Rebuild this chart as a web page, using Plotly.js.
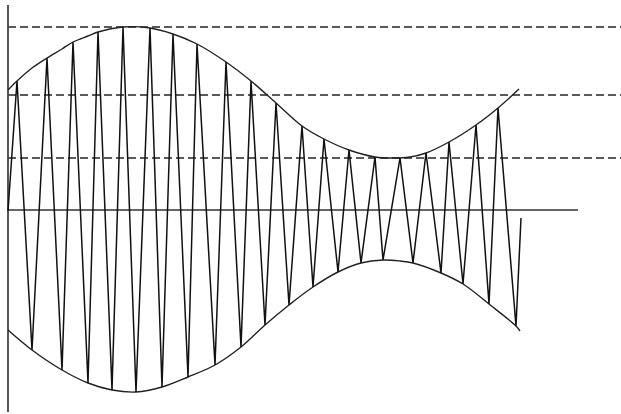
<!DOCTYPE html>
<html>
<head>
<meta charset="utf-8">
<script src="https://cdn.plot.ly/plotly-3.0.1.min.js"></script>
<style>html,body{margin:0;padding:0;background:#fff;}#chart{width:621px;height:414px;}</style>
</head>
<body>
<div id="chart"></div>
<script>
// Zigzag (modulated triangle wave) vertices: time and amplitude
const zigX = [8,17,32,47,62,73,88,98,112,123,136,150,162,173,188,197,215,226,241,251,265,276,289,302,313,324,338,349,361,375,383,400,413,426,441,449,463,476,489,498,516,521];
const zigY = [-1,129,-140,152,-160,168,-173,178,-180,183,-182,182,-177,176,-167,166,-155,148,-137,129,-115,107,-95,84,-77,71,-62,60,-53,53,-50,52,-53,57,-63,68,-74,85,-94,102,-116,-8];

// Upper envelope
const upX = [8,17,32,47,62,73,88,98,123,150,173,197,226,251,276,302,324,349,375,392,410,426,449,476,498,519];
const upY = [120,129,142,152,161,168,174,178,183,182,176,166,148,129,107,84,71,60,53,52,53,57,68,85,102,121];

// Lower envelope
const loX = [8,32,62,88,112,136,162,188,215,241,265,289,313,338,361,383,400,413,441,463,489,516,520];
const loY = [-120,-140,-160,-173,-180,-182,-177,-167,-155,-137,-115,-95,-77,-62,-53,-50,-51,-53,-63,-74,-94,-116,-121];

// Dashed reference levels
const refLevels = [183, 115, 52];

// Axis extents
const axisXStart = 8, axisXEnd = 578;
const axisYTop = 205, axisYBottom = -202;

const traces = [];
refLevels.forEach(function(v){
  traces.push({x:[axisXStart, 621], y:[v, v], mode:'lines', hoverinfo:'skip',
    line:{color:'#5a5a5a', width:1.8, dash:'8px,4px'}});
});
traces.push({x:[axisXStart, axisXEnd], y:[0,0], mode:'lines', hoverinfo:'skip', line:{color:'#333', width:1.6}});
traces.push({x:[axisXStart, axisXStart], y:[axisYTop, axisYBottom], mode:'lines', hoverinfo:'skip', line:{color:'#444', width:1.8}});
traces.push({x:upX, y:upY, mode:'lines', hoverinfo:'skip', line:{color:'#222', width:1.4, shape:'spline', smoothing:1}});
traces.push({x:loX, y:loY, mode:'lines', hoverinfo:'skip', line:{color:'#222', width:1.4, shape:'spline', smoothing:1}});
traces.push({x:zigX, y:zigY, mode:'lines', hoverinfo:'skip', line:{color:'#111', width:1.5}});

const layout = {
  width:621, height:414,
  margin:{l:0, r:0, t:0, b:0},
  paper_bgcolor:'#fff', plot_bgcolor:'#fff',
  showlegend:false,
  xaxis:{range:[0,621], visible:false, fixedrange:true},
  yaxis:{range:[-204,210], visible:false, fixedrange:true}
};
Plotly.newPlot('chart', traces, layout, {staticPlot:true, displayModeBar:false});
</script>
</body>
</html>
